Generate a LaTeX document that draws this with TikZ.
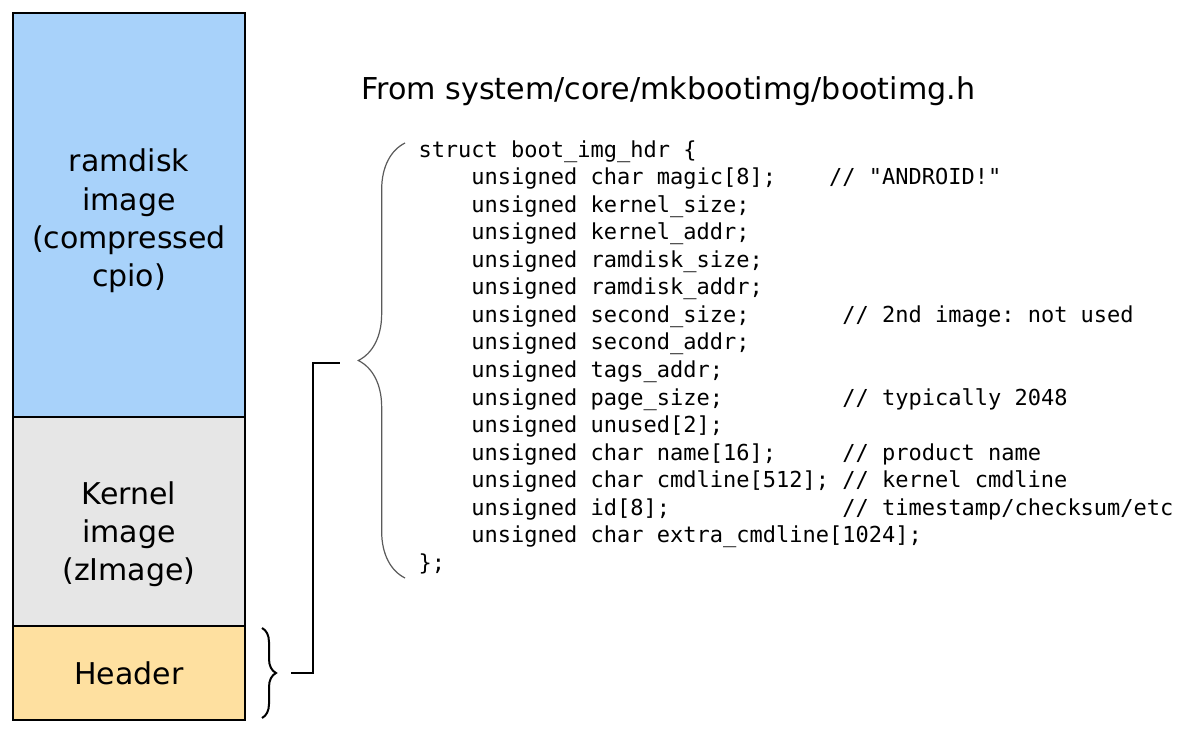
\documentclass[tikz,border=0pt]{standalone}
\usepackage{fontspec}
\setmainfont{DejaVu Sans}
\setmonofont{DejaVu Sans Mono}
\usepackage{tikz}
\usetikzlibrary{decorations.pathreplacing}
\tikzset{every picture/.style={line width=0.75pt}}
\newcommand{\ind}{\mbox{\ \ \ \ }}

\begin{document}
\begin{tikzpicture}[x=0.75pt,y=0.75pt,yscale=-1,xscale=1,
  boxlabel/.style={align=center, inner sep=0.75pt, font=\fontsize{22.5}{28.7}\selectfont},
  codetext/.style={anchor=north west, align=left, inner sep=0pt, font=\ttfamily\frenchspacing\fontsize{16.5}{20.65}\selectfont},
  bigbrace/.style={decorate, decoration={brace, amplitude=35pt}, color={rgb, 255:red, 90; green, 90; blue, 90 }, line width=0.9pt},
  smallbrace/.style={decorate, decoration={brace, amplitude=10.5pt}, line width=1.5pt}]

\useasboundingbox (0,0) rectangle (1180,730);

%Shape: Rectangle [ramdisk]
\draw [line width=2.2pt, fill={rgb, 255:red, 168; green, 210; blue, 250 }] (13,13) rectangle (245,417) ;
%Shape: Rectangle [kernel]
\draw [line width=2.2pt, fill={rgb, 255:red, 230; green, 230; blue, 230 }] (13,417) rectangle (245,626) ;
%Shape: Rectangle [header]
\draw [line width=2.2pt, fill={rgb, 255:red, 254; green, 224; blue, 160 }] (13,626) rectangle (245,720) ;

% Text Node
\draw (129,221) node (ramdisk) [boxlabel] {ramdisk\\image\\(compressed\\cpio)};
% Text Node
\draw (129,534) node (kernel) [boxlabel] {Kernel\\image\\(zImage)};
% Text Node
\draw (129,673) node (header) [boxlabel] {Header};

%Braces
\draw [smallbrace] (262,628) -- (262,718) ;
\draw [bigbrace] (405,578) -- (405,143) ;

\coordinate (hdrtip) at (291,673) ;
\coordinate (structtip) at (340,363) ;
%Straight Lines
\draw [line width=2.2pt] (hdrtip) -- ++(22,0) |- (structtip) ;

% Text Node
\draw (361,100) node (title) [anchor=base west, inner sep=0pt, font=\fontsize{22.6}{27}\selectfont] {From system/core/mkbootimg/bootimg.h};

% Text Node
\draw (418,140) node (hdrcode) [codetext] {struct boot\_img\_hdr \{\\
\ind unsigned char magic[8];\ \ \ \ // "ANDROID!"\\
\ind unsigned kernel\_size;\\
\ind unsigned kernel\_addr;\\
\ind unsigned ramdisk\_size;\\
\ind unsigned ramdisk\_addr;\\
\ind unsigned second\_size;\ \ \ \ \ \ \ // 2nd image: not used\\
\ind unsigned second\_addr;\\
\ind unsigned tags\_addr;\\
\ind unsigned page\_size;\ \ \ \ \ \ \ \ \ // typically 2048\\
\ind unsigned unused[2];\\
\ind unsigned char name[16];\ \ \ \ \ // product name\\
\ind unsigned char cmdline[512];\ // kernel cmdline\\
\ind unsigned id[8];\ \ \ \ \ \ \ \ \ \ \ \ \ // timestamp/checksum/etc\\
\ind unsigned char extra\_cmdline[1024];\\
\};};
\end{tikzpicture}
\end{document}
